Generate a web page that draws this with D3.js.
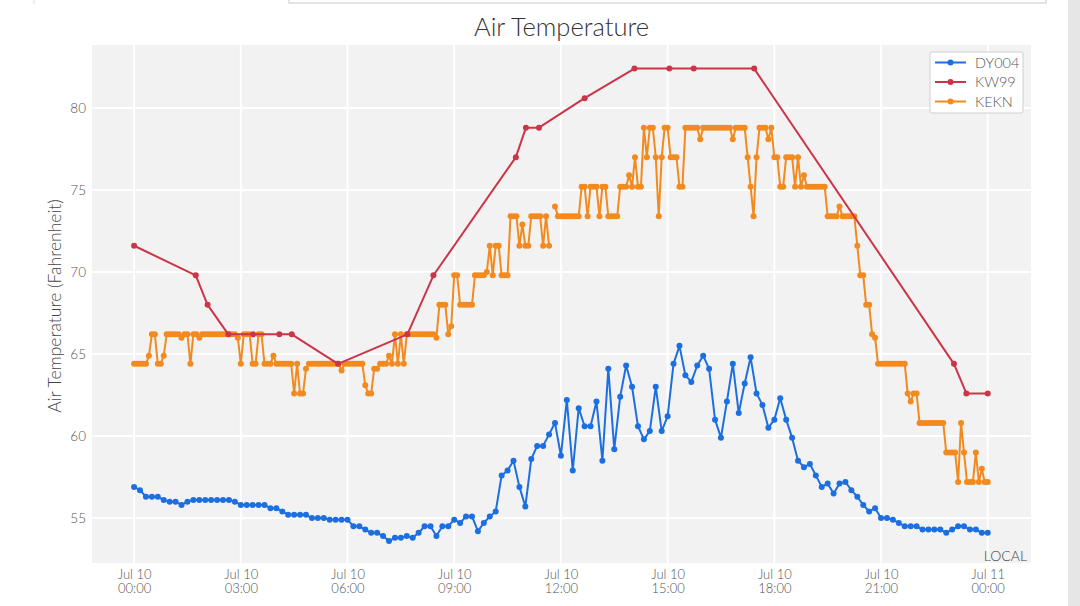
<!DOCTYPE html>
<html>
<head>
  <meta charset="utf-8">
  <script src="https://d3js.org/d3.v7.min.js"></script>
  <style>
    body {
      margin: 0;
      background: white;
      font-family: Lato, "Open Sans", sans-serif;
    }
    text {
      font-family: Lato, "Open Sans", sans-serif;
      font-weight: 300;
    }
  </style>
</head>
<body>
<script type="text/javascript">

// DY004, one reading every 10 minutes from Jul 10 00:00
var dy004Start = "2023-07-10 00:00";
var dy004Step = 10;
var dy004Values = [
  56.9, 56.7, 56.3, 56.3, 56.3, 56.1,
  56.0, 56.0, 55.8, 56.0, 56.1, 56.1,
  56.1, 56.1, 56.1, 56.1, 56.1, 56.0,
  55.8, 55.8, 55.8, 55.8, 55.8, 55.6,
  55.6, 55.4, 55.2, 55.2, 55.2, 55.2,
  55.0, 55.0, 55.0, 54.9, 54.9, 54.9,
  54.9, 54.5, 54.5, 54.3, 54.1, 54.1,
  53.9, 53.6, 53.8, 53.8, 53.9, 53.8,
  54.1, 54.5, 54.5, 53.9, 54.5, 54.5,
  54.9, 54.7, 55.1, 55.1, 54.2, 54.7,
  55.1, 55.4, 57.6, 57.9, 58.5, 56.9,
  55.7, 58.6, 59.4, 59.4, 60.1, 60.8,
  58.8, 62.2, 57.9, 61.7, 60.6, 60.6,
  62.1, 58.5, 64.1, 59.2, 62.4, 64.3,
  63.0, 60.6, 59.8, 60.3, 63.0, 60.3,
  61.2, 64.4, 65.5, 63.7, 63.3, 64.3,
  64.9, 64.1, 61.0, 59.9, 62.1, 64.4,
  61.4, 63.2, 64.8, 62.6, 61.9, 60.5,
  61.0, 62.3, 61.0, 59.9, 58.5, 58.1,
  58.3, 57.6, 56.9, 57.1, 56.5, 57.1,
  57.2, 56.7, 56.3, 55.8, 55.4, 55.6,
  55.0, 55.0, 54.9, 54.7, 54.5, 54.5,
  54.5, 54.3, 54.3, 54.3, 54.3, 54.1,
  54.3, 54.5, 54.5, 54.3, 54.3, 54.1,
  54.1
];

// KW99, irregular reports
var kw99Times = [
  "2023-07-10 00:00", "2023-07-10 01:44", "2023-07-10 02:04", "2023-07-10 02:39",
  "2023-07-10 03:21", "2023-07-10 04:05", "2023-07-10 04:26", "2023-07-10 05:44",
  "2023-07-10 07:41", "2023-07-10 08:25", "2023-07-10 10:44", "2023-07-10 11:01",
  "2023-07-10 11:23", "2023-07-10 12:40", "2023-07-10 14:04", "2023-07-10 15:03",
  "2023-07-10 15:44", "2023-07-10 17:26", "2023-07-10 23:03", "2023-07-10 23:24",
  "2023-07-11 00:00"
];
var kw99Values = [
  71.6, 69.8, 68.0, 66.2,
  66.2, 66.2, 66.2, 64.4,
  66.2, 69.8, 77.0, 78.8,
  78.8, 80.6, 82.4, 82.4,
  82.4, 82.4, 64.4, 62.6,
  62.6
];

// KEKN, one reading every 5 minutes from Jul 10 00:00 (null = missing)
var keknStart = "2023-07-10 00:00";
var keknStep = 5;
var keknValues = [
  64.4, 64.4, 64.4, 64.4, 64.4, 64.9, 66.2, 66.2, 64.4, 64.4, 64.9, 66.2,
  66.2, 66.2, 66.2, 66.2, 66.0, 66.2, 66.2, 64.4, 66.2, 66.2, 66.0, 66.2,
  66.2, 66.2, 66.2, 66.2, 66.2, 66.2, 66.2, 66.2, 66.2, 66.2, 66.2, 66.0,
  64.4, 66.2, 66.2, 66.2, 64.4, 64.4, 66.2, 66.2, 64.4, 64.4, 64.4, 64.9,
  64.4, 64.4, 64.4, 64.4, 64.4, 64.4, 62.6, 64.4, 62.6, 62.6, 64.1, 64.4,
  64.4, 64.4, 64.4, 64.4, 64.4, 64.4, 64.4, 64.4, 64.4, 64.4, 64.0, 64.4,
  64.4, 64.4, 64.4, 64.4, 64.4, 64.4, 63.1, 62.6, 62.6, 64.1, 64.1, 64.4,
  64.4, 64.4, 64.9, 64.4, 66.2, 64.4, 66.2, 64.4, 66.2, 66.2, 66.2, 66.2,
  66.2, 66.2, 66.2, 66.2, 66.2, 66.2, 66.0, 68.0, 68.0, 68.0, 66.2, 66.7,
  69.8, 69.8, 68.0, 68.0, 68.0, 68.0, 68.0, 69.8, 69.8, 69.8, 69.8, 70.0,
  71.6, 69.8, 71.6, 71.6, 69.8, 69.8, 69.8, 73.4, 73.4, 73.4, 71.6, 72.9,
  71.6, 71.6, 73.4, 73.4, 73.4, 73.4, 71.6, 73.4, 71.6, null, 74.0, 73.4,
  73.4, 73.4, 73.4, 73.4, 73.4, 73.4, 73.4, 75.2, 75.2, 73.4, 75.2, 75.2,
  75.2, 73.4, 75.2, 75.2, 73.4, 73.4, 73.4, 73.4, 75.2, 75.2, 75.2, 75.9,
  75.2, 77.0, 75.2, 75.2, 78.8, 77.0, 78.8, 78.8, 77.0, 73.4, 77.0, 78.8,
  78.8, 77.0, 77.0, 77.0, 75.2, 75.2, 78.8, 78.8, 78.8, 78.8, 78.8, 78.1,
  78.8, 78.8, 78.8, 78.8, 78.8, 78.8, 78.8, 78.8, 78.8, 78.8, 78.1, 78.8,
  78.8, 78.8, 78.8, 77.0, 75.2, 73.4, 77.0, 78.8, 78.8, 78.8, 78.1, 78.8,
  77.0, 77.0, 75.2, 75.2, 77.0, 77.0, 77.0, 75.2, 77.0, 75.2, 75.9, 75.2,
  75.2, 75.2, 75.2, 75.2, 75.2, 75.2, 73.4, 73.4, 73.4, 73.4, 74.0, 73.4,
  73.4, 73.4, 73.4, 73.4, 71.6, 69.8, 69.8, 68.0, 68.0, 66.2, 66.0, 64.4,
  64.4, 64.4, 64.4, 64.4, 64.4, 64.4, 64.4, 64.4, 64.4, 62.6, 62.1, 62.6,
  62.6, 60.8, 60.8, 60.8, 60.8, 60.8, 60.8, 60.8, 60.8, 60.8, 59.0, 59.0,
  59.0, 59.0, 57.2, 60.8, 59.0, 57.2, 57.2, 57.2, 59.0, 57.2, 58.0, 57.2,
  57.2
];

var seriesNames = ["DY004", "KW99", "KEKN"];
var seriesColors = ["#1c6fe0", "#cc3548", "#f28a1f"];

var yTicks = [55, 60, 65, 70, 75, 80];
var xTickTimes = [
  "2023-07-10 00:00", "2023-07-10 03:00", "2023-07-10 06:00",
  "2023-07-10 09:00", "2023-07-10 12:00", "2023-07-10 15:00",
  "2023-07-10 18:00", "2023-07-10 21:00", "2023-07-11 00:00"
];

var parseTime = d3.utcParse("%Y-%m-%d %H:%M");

function regular(start, step, values) {
  var t0 = parseTime(start).getTime();
  return values.map(function(v, i) {
    return {t: new Date(t0 + i * step * 60000), v: v};
  });
}

var dy004 = regular(dy004Start, dy004Step, dy004Values);
var kekn = regular(keknStart, keknStep, keknValues);
var kw99 = kw99Times.map(function(t, i) {
  return {t: parseTime(t), v: kw99Values[i]};
});

var width = 1080, height = 606;
var plot = {left: 92, right: 1031, top: 45, bottom: 563};

var svg = d3.select("body").append("svg")
  .attr("width", width)
  .attr("height", height);

// bits of the surrounding page
svg.append("rect")
  .attr("x", 1068).attr("y", 0)
  .attr("width", 12).attr("height", height)
  .attr("fill", "#e6e6e6");
svg.append("path")
  .attr("d", "M289,0V3H1046V0")
  .attr("fill", "none")
  .attr("stroke", "#dcdcdc")
  .attr("stroke-width", 1.5);
svg.append("line")
  .attr("x1", 34).attr("x2", 34).attr("y1", 0).attr("y2", 4)
  .attr("stroke", "#dcdcdc");

var x = d3.scaleTime()
  .domain([parseTime("2023-07-09 22:49"), parseTime("2023-07-11 01:13")])
  .range([plot.left, plot.right]);

var y = d3.scaleLinear()
  .domain([52.26, 83.84])
  .range([plot.bottom, plot.top]);

svg.append("rect")
  .attr("x", plot.left).attr("y", plot.top)
  .attr("width", plot.right - plot.left)
  .attr("height", plot.bottom - plot.top)
  .attr("fill", "#f2f2f2");

var xTicks = xTickTimes.map(parseTime);

// grid
svg.append("g")
  .selectAll("line")
  .data(xTicks)
  .enter()
  .append("line")
  .attr("x1", function(d) { return x(d); })
  .attr("x2", function(d) { return x(d); })
  .attr("y1", plot.top)
  .attr("y2", plot.bottom)
  .attr("stroke", "white")
  .attr("stroke-width", 2);

svg.append("g")
  .selectAll("line")
  .data(yTicks)
  .enter()
  .append("line")
  .attr("x1", plot.left)
  .attr("x2", plot.right)
  .attr("y1", function(d) { return y(d); })
  .attr("y2", function(d) { return y(d); })
  .attr("stroke", "white")
  .attr("stroke-width", 2);

// axes (labels only, plotly style)
var yAxis = d3.axisLeft(y)
  .tickValues(yTicks)
  .tickSize(0)
  .tickPadding(6);
var gy = svg.append("g")
  .attr("transform", "translate(" + plot.left + ",0)")
  .call(yAxis);
gy.select(".domain").remove();
gy.selectAll("text")
  .attr("fill", "#555")
  .style("font-size", "13.5px");

var fmtDay = d3.utcFormat("%b %-d");
var fmtHour = d3.utcFormat("%H:%M");
var xAxis = d3.axisBottom(x)
  .tickValues(xTicks)
  .tickSize(0)
  .tickFormat("");
var gx = svg.append("g")
  .attr("transform", "translate(0," + plot.bottom + ")")
  .call(xAxis);
gx.select(".domain").remove();
gx.selectAll(".tick").each(function(d) {
  var t = d3.select(this).append("text")
    .attr("fill", "#555")
    .attr("text-anchor", "middle")
    .style("font-size", "13px");
  t.append("tspan").attr("x", 0).attr("y", 16).text(fmtDay(d));
  t.append("tspan").attr("x", 0).attr("y", 30).text(fmtHour(d));
});

svg.append("text")
  .attr("x", 1027)
  .attr("y", 561)
  .attr("text-anchor", "end")
  .attr("fill", "#444")
  .style("font-size", "14px")
  .text("LOCAL");

svg.append("text")
  .attr("transform", "translate(61," + ((plot.top + plot.bottom) / 2 + 2) + ") rotate(-90)")
  .attr("text-anchor", "middle")
  .attr("fill", "#444")
  .style("font-size", "17.5px")
  .text("Air Temperature (Fahrenheit)");

svg.append("text")
  .attr("x", (plot.left + plot.right) / 2)
  .attr("y", 36)
  .attr("text-anchor", "middle")
  .attr("fill", "#333")
  .style("font-size", "25.5px")
  .text("Air Temperature");

// series
var line = d3.line()
  .defined(function(d) { return d.v !== null; })
  .x(function(d) { return x(d.t); })
  .y(function(d) { return y(d.v); });

function drawSeries(data, color) {
  var g = svg.append("g");
  g.append("path")
    .datum(data)
    .attr("d", line)
    .attr("fill", "none")
    .attr("stroke", color)
    .attr("stroke-width", 2)
    .attr("stroke-linejoin", "round");
  g.selectAll("circle")
    .data(data.filter(function(d) { return d.v !== null; }))
    .enter()
    .append("circle")
    .attr("cx", function(d) { return x(d.t); })
    .attr("cy", function(d) { return y(d.v); })
    .attr("r", 3)
    .attr("fill", color);
}

drawSeries(kekn, seriesColors[2]);
drawSeries(dy004, seriesColors[0]);
drawSeries(kw99, seriesColors[1]);

// legend
var legend = svg.append("g").attr("transform", "translate(930,52)");
legend.append("rect")
  .attr("width", 93)
  .attr("height", 61)
  .attr("rx", 2)
  .attr("fill", "white")
  .attr("stroke", "#cfcfcf");
var items = legend.selectAll("g.item")
  .data(seriesNames)
  .enter()
  .append("g")
  .attr("class", "item")
  .attr("transform", function(d, i) { return "translate(0," + (10.5 + i * 19.5) + ")"; });
items.append("line")
  .attr("x1", 5).attr("x2", 36)
  .attr("stroke", function(d, i) { return seriesColors[i]; })
  .attr("stroke-width", 2);
items.append("circle")
  .attr("cx", 20.5)
  .attr("r", 3)
  .attr("fill", function(d, i) { return seriesColors[i]; });
items.append("text")
  .attr("x", 45)
  .attr("dy", "0.35em")
  .attr("fill", "#555")
  .style("font-size", "14.5px")
  .text(function(d) { return d; });

</script>
</body>
</html>
